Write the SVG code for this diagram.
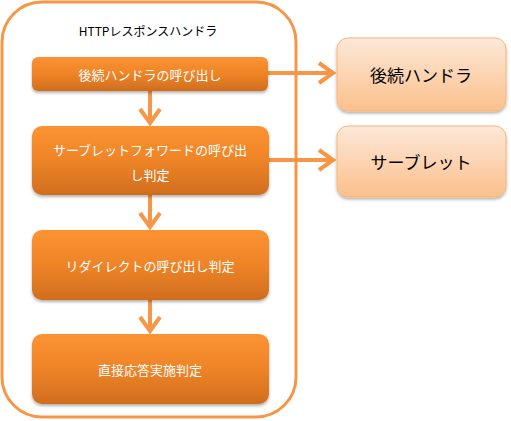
<svg xmlns="http://www.w3.org/2000/svg" width="511" height="421" viewBox="0 0 511 421">
<style>
.t{font-family:"Noto Sans CJK JP","Liberation Sans",sans-serif;text-anchor:middle;dominant-baseline:central}
.w{fill:#fff;font-size:13px}
.k{fill:#000;font-size:17px}
.box{fill:url(#og);filter:url(#sh)}
.rbox{fill:url(#lg);stroke:#F9B57A;stroke-width:1;filter:url(#sh)}
.c{stroke:#F79646;stroke-width:4;fill:none}
</style>
<defs>
<linearGradient id="og" x1="0" y1="0" x2="0" y2="1">
<stop offset="0" stop-color="#FC9332"/>
<stop offset="0.5" stop-color="#EE8427"/>
<stop offset="1" stop-color="#D06D1E"/>
</linearGradient>
<linearGradient id="lg" x1="0" y1="0" x2="0" y2="1">
<stop offset="0" stop-color="#FDE8D8"/>
<stop offset="1" stop-color="#FBC08C"/>
</linearGradient>
<filter id="sh" x="-10%" y="-10%" width="120%" height="130%">
<feDropShadow dx="0" dy="2" stdDeviation="1.5" flood-color="#000" flood-opacity="0.3"/>
</filter>
<marker id="ah" markerWidth="6" markerHeight="6" refX="4.5" refY="3" orient="auto" markerUnits="strokeWidth">
<path d="M1,0.5 L4.5,3 L1,5.5" fill="none" stroke="#F79646" stroke-width="1"/>
</marker>
</defs>
<g id="container">
<rect x="2" y="2" width="294" height="415" rx="40" fill="#fff" stroke="#F79646" stroke-width="3"/>
<text class="t" x="148" y="30" style="font-size:12px;fill:#000">HTTPレスポンスハンドラ</text>
</g>
<g id="connectors">
<line class="c" x1="268" y1="73" x2="333" y2="73" marker-end="url(#ah)"/>
<line class="c" x1="268" y1="160" x2="333" y2="160" marker-end="url(#ah)"/>
<line class="c" x1="150" y1="91" x2="150" y2="123" marker-end="url(#ah)"/>
<line class="c" x1="150" y1="195" x2="150" y2="227" marker-end="url(#ah)"/>
<line class="c" x1="150" y1="300" x2="150" y2="331" marker-end="url(#ah)"/>
</g>
<g id="n1">
<rect class="box" x="32" y="57" width="236" height="34" rx="6"/>
<text class="t w" x="150" y="74">後続ハンドラの呼び出し</text>
</g>
<g id="n2">
<rect class="box" x="32" y="126" width="237" height="69" rx="10"/>
<text class="t w" x="150" y="149">サーブレットフォワードの呼び出</text>
<text class="t w" x="150" y="174">し判定</text>
</g>
<g id="n3">
<rect class="box" x="32" y="230" width="237" height="70" rx="10"/>
<text class="t w" x="150" y="265">リダイレクトの呼び出し判定</text>
</g>
<g id="n4">
<rect class="box" x="32" y="334" width="237" height="70" rx="10"/>
<text class="t w" x="150" y="369">直接応答実施判定</text>
</g>
<g id="nA">
<rect class="rbox" x="337" y="38" width="169" height="73" rx="11"/>
<text class="t k" x="421" y="74">後続ハンドラ</text>
</g>
<g id="nB">
<rect class="rbox" x="337" y="126" width="169" height="71" rx="11"/>
<text class="t k" x="421" y="161">サーブレット</text>
</g>
</svg>
